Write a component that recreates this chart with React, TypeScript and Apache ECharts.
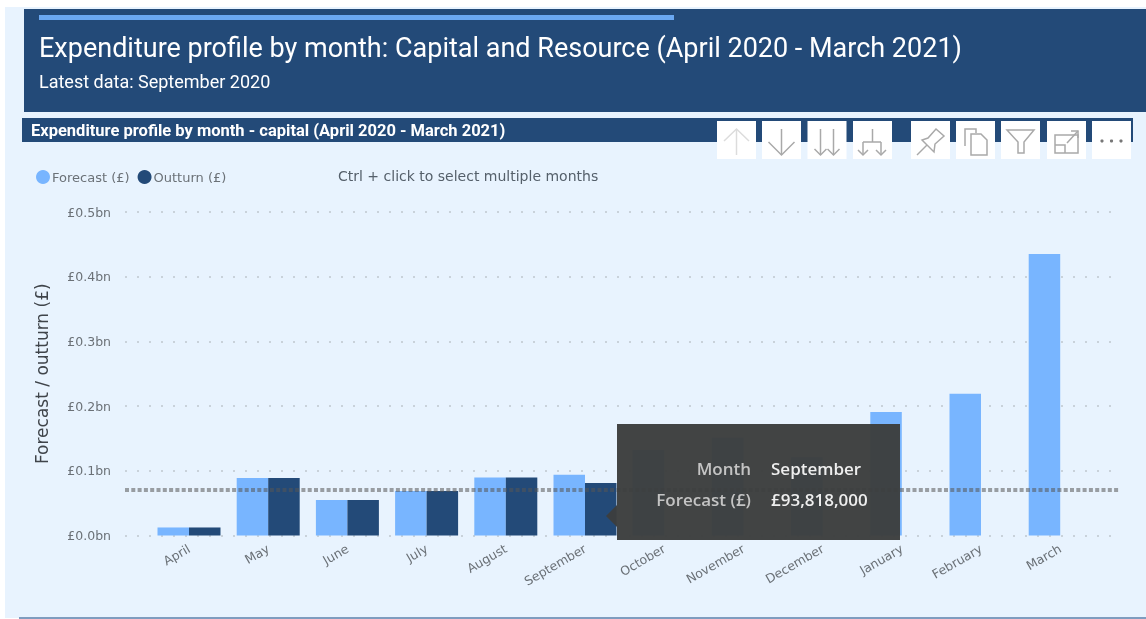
import React, { useEffect, useRef } from "react";
import * as echarts from "echarts";

const months = ["April","May","June","July","August","September","October","November","December","January","February","March"];
const forecast = [0.0124,0.0889,0.0549,0.0688,0.0896,0.0938,0.132,0.151,0.121,0.191,0.219,0.435];
const outturn: (number|null)[] = [0.0124,0.0889,0.0549,0.0688,0.0896,0.081,null,null,null,null,null,null];
const referenceLine = 0.0665;
const yMax = 0.5;
const yStep = 0.1;
const mainTitle = "Expenditure profile by month: Capital and Resource (April 2020 - March 2021)";
const subTitle = "Latest data: September 2020";
const panelTitle = "Expenditure profile by month - capital (April 2020 - March 2021)";
const hint = "Ctrl + click to select multiple months";
const yName = "Forecast / outturn (£)";

const NAVY = "#234a78";
const LIGHT = "#78b5ff";
const ICON = "#a9a9a9";

function ln(pts: number[][], stroke = ICON, closed = false) {
  return { type: closed ? "polygon" : "polyline", shape: { points: pts }, style: { stroke, fill: "none", lineWidth: 1.5 } };
}
function arrow(x: number, y0: number, y1: number, hw: number, stroke = ICON) {
  return [ln([[x, y0],[x, y1]], stroke), ln([[x-hw, y1-hw],[x, y1],[x+hw, y1-hw]], stroke)];
}
const icons: any[][] = [
  [ln([[19.5,34],[19.5,8]],"#dcdcdc"), ln([[7,20],[19.5,8],[32,20]],"#dcdcdc")],
  arrow(19.5,8,34,13),
  [...arrow(13,8,34,6), ...arrow(26,8,34,6)],
  [ln([[19.5,8],[19.5,21]]), ln([[10,21],[28,21]]), ...arrow(10,21,34,5), ...arrow(28,21,34,5)],
  [ln([[6,34],[16,24]]), ln([[11,19],[23,31],[24,23],[33,15],[25,8],[17,17]], ICON, true)],
  [ln([[9,25],[9,8],[20,8],[20,12]]), ln([[15,13],[25,13],[31,19],[31,34],[15,34]], ICON, true)],
  [ln([[6,9],[33,9],[23,21],[23,32],[17,32],[17,21]], ICON, true)],
  [{ type:"rect", shape:{x:8,y:14,width:23,height:18}, style:{stroke:ICON,fill:"none",lineWidth:1.5}}, ln([[8,24],[18,24],[18,32]]), ln([[20,22],[31,10]]), ln([[24,10],[31,10],[31,17]])],
  [5,19.5,34].map(() => null).map((_, i) => ({ type:"circle", shape:{cx:10+i*9.5,cy:20,r:1.6}, style:{fill:"#777"} })),
];
const iconX = [717,762,807.5,853,911,956,1001,1047,1092];

export default function App() {
  const ref = useRef<HTMLDivElement>(null);
  useEffect(() => {
    document.body.style.margin = "0";
    document.body.style.background = "#fff";
    const chart = echarts.init(ref.current!, undefined, { renderer: "svg" });
    const top = 212, h = 323.5;
    const hidden = { show: false };
    const toolbar = iconX.map((x, i) => ({
      type: "group", x, y: 121, z: 50,
      children: [{ type:"rect", shape:{x:0,y:0,width:39,height:38}, style:{fill:"#fff"} }, ...icons[i]],
    }));
    chart.setOption({
      animation: false,
      grid: [
        { left: 149.4, top, width: 950.4, height: h },
        { left: 125, top, width: 995, height: h },
      ],
      xAxis: [
        { type:"category", data: months, gridIndex:0, axisTick:hidden, axisLine:hidden,
          axisLabel:{ rotate:30, interval:0, margin:12, color:"#6b7177", fontFamily:"DejaVu Sans", fontSize:12.5 } },
        { type:"value", gridIndex:1, min:0, max:1, show:false },
      ],
      yAxis: [
        { type:"value", gridIndex:0, min:0, max:yMax, interval:yStep, show:false },
        { type:"value", gridIndex:1, min:0, max:yMax, interval:yStep, axisLine:hidden, axisTick:hidden,
          axisLabel:{ margin:14, color:"#6b7177", fontFamily:"DejaVu Sans", fontSize:12.5, formatter:(v:number)=>`£${v.toFixed(1)}bn` },
          splitLine:{ show:true, lineStyle:{ color:"#c9d2da", width:2, type:[2,10] } },
          name:yName, nameLocation:"middle", nameGap:75, nameTextStyle:{ color:"#3f444a", fontFamily:"DejaVu Sans", fontSize:17 } },
      ],
      legend: { left:31, top:165, itemGap:8, itemWidth:14, itemHeight:14, icon:"circle", data:["Forecast (£)","Outturn (£)"],
        textStyle:{ color:"#6b7177", fontFamily:"DejaVu Sans", fontSize:13, padding:[0,0,0,-3] } },
      series: [
        { name:"Forecast (£)", type:"bar", data:forecast, xAxisIndex:0, yAxisIndex:0, barWidth:31.5, barGap:0, itemStyle:{ color:LIGHT } },
        { name:"Outturn (£)", type:"bar", data:outturn, xAxisIndex:0, yAxisIndex:0, barWidth:31.5, barGap:0, itemStyle:{ color:NAVY } },
        { name:"Reference", type:"line", data:[], xAxisIndex:1, yAxisIndex:1, z:5,
          markLine:{ silent:true, symbol:"none", label:{show:false}, data:[{ yAxis:referenceLine }],
            lineStyle:{ color:"rgba(85,85,85,0.55)", width:4, type:[4,2.3] } } },
      ],
      graphic: [
        { type:"rect", z:-10, shape:{x:5,y:7,width:1141,height:611}, style:{fill:"#e8f3fe"} },
        { type:"rect", z:-9, shape:{x:19,y:617,width:1127,height:2}, style:{fill:"#7f9cbf"} },
        { type:"rect", z:-9, shape:{x:24,y:9,width:1122,height:103}, style:{fill:NAVY} },
        { type:"rect", z:-8, shape:{x:39,y:15,width:635,height:5}, style:{fill:"#6aa8f2"} },
        { type:"text", z:-8, x:39, y:48, style:{ text:mainTitle, fill:"#fff", font:"27px Roboto", verticalAlign:"middle" } },
        { type:"text", z:-8, x:39, y:81, style:{ text:subTitle, fill:"#fff", font:"18px Roboto", verticalAlign:"middle" } },
        { type:"rect", z:-9, shape:{x:22,y:118,width:1111,height:24}, style:{fill:NAVY} },
        { type:"text", z:-8, x:31, y:130, style:{ text:panelTitle, fill:"#fff", font:"bold 16.5px Roboto", verticalAlign:"middle" } },
        { type:"text", z:-8, x:338, y:176, style:{ text:hint, fill:"#55606b", font:"14px 'DejaVu Sans'", verticalAlign:"middle" } },
        ...toolbar,
        { type:"rect", z:60, shape:{x:617,y:424,width:283,height:116}, style:{fill:"rgba(60,62,62,0.97)"} },
        { type:"polygon", z:60, shape:{points:[[617,505],[606,516],[617,527]]}, style:{fill:"rgba(60,62,62,0.97)"} },
        { type:"text", z:61, x:751, y:468, style:{ text:"Month", fill:"#c4c4c4", font:"600 17px 'Open Sans'", align:"right", verticalAlign:"middle" } },
        { type:"text", z:61, x:771, y:468, style:{ text:"September", fill:"#eeeeee", font:"600 17px 'Open Sans'", verticalAlign:"middle" } },
        { type:"text", z:61, x:751, y:499, style:{ text:"Forecast (£)", fill:"#c4c4c4", font:"600 17px 'Open Sans'", align:"right", verticalAlign:"middle" } },
        { type:"text", z:61, x:771, y:499, style:{ text:"£93,818,000", fill:"#eeeeee", font:"600 17px 'Open Sans'", verticalAlign:"middle" } },
      ],
    });
    return () => chart.dispose();
  }, []);
  return <div ref={ref} style={{ position:"fixed", left:0, top:0, width:1146, height:619 }} />;
}
